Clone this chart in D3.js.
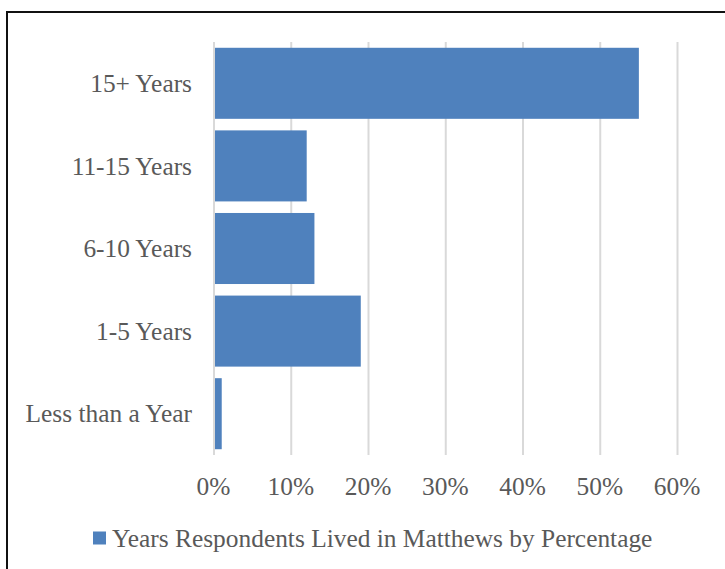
<!DOCTYPE html>
<html>
<head>
<meta charset="utf-8">
<script src="https://cdn.jsdelivr.net/npm/d3@7"></script>
<style>
  html, body { margin: 0; padding: 0; background: #fff; }
  svg { display: block; }
</style>
</head>
<body>
<svg id="chart" width="725" height="569"></svg>
<script>
// Years lived in Matthews, share of respondents (%)
const categories = ["15+ Years", "11-15 Years", "6-10 Years", "1-5 Years", "Less than a Year"];
const percentages = [55, 12, 13, 19, 1];
const tickValues = [0, 10, 20, 30, 40, 50, 60];
const seriesName = "Years Respondents Lived in Matthews by Percentage";

const svg = d3.select("#chart");
const font = "'Liberation Serif', 'DejaVu Serif', serif";
const fontSize = 25.4;
const textColor = "#595959";
const barColor = "#4f81bd";

// Outer chart frame
svg.append("rect")
  .attr("x", 7).attr("y", 12)
  .attr("width", 800).attr("height", 700)
  .attr("fill", "#fff")
  .attr("stroke", "#111").attr("stroke-width", 2);

const plot = { left: 214, right: 677.5, top: 42, bottom: 455 };

const x = d3.scaleLinear().domain([0, 60]).range([plot.left, plot.right]);
const y = d3.scaleBand().domain(categories).range([plot.top, plot.bottom])
  .paddingInner(0.14).paddingOuter(0.07);

// Vertical gridlines
svg.append("g")
  .selectAll("line")
  .data(tickValues)
  .join("line")
  .attr("x1", d => x(d)).attr("x2", d => x(d))
  .attr("y1", plot.top).attr("y2", plot.bottom)
  .attr("stroke", "#d9d9d9").attr("stroke-width", 2);

// Bars
svg.append("g")
  .selectAll("rect")
  .data(categories)
  .join("rect")
  .attr("x", x(0) + 1)
  .attr("y", d => y(d))
  .attr("width", (d, i) => x(percentages[i]) - x(0) - 1)
  .attr("height", y.bandwidth())
  .attr("fill", barColor);

// X axis labels
const xAxis = d3.axisBottom(x)
  .tickValues(tickValues)
  .tickFormat(d => d + "%")
  .tickSize(0)
  .tickPadding(0);
const gx = svg.append("g")
  .attr("transform", `translate(-1, ${plot.bottom + 31})`)
  .call(xAxis);
gx.select(".domain").remove();
gx.selectAll("text")
  .attr("dy", "0.35em")
  .attr("font-family", font)
  .attr("font-size", fontSize)
  .attr("fill", textColor);

// Y axis labels
const yAxis = d3.axisLeft(y).tickSize(0).tickPadding(0);
const gy = svg.append("g")
  .attr("transform", `translate(${plot.left - 22}, 0)`)
  .call(yAxis);
gy.select(".domain").remove();
gy.selectAll("text")
  .attr("dy", "0.34em")
  .attr("font-family", font)
  .attr("font-size", fontSize)
  .attr("fill", textColor);

// Legend
const legend = svg.append("g").attr("transform", "translate(93, 538)");
legend.append("rect")
  .attr("x", 0).attr("y", -6.5)
  .attr("width", 13).attr("height", 13)
  .attr("fill", barColor);
legend.append("text")
  .attr("x", 19).attr("y", 0)
  .attr("dy", "0.35em")
  .attr("font-family", font)
  .attr("font-size", fontSize)
  .attr("fill", textColor)
  .text(seriesName);
</script>
</body>
</html>
